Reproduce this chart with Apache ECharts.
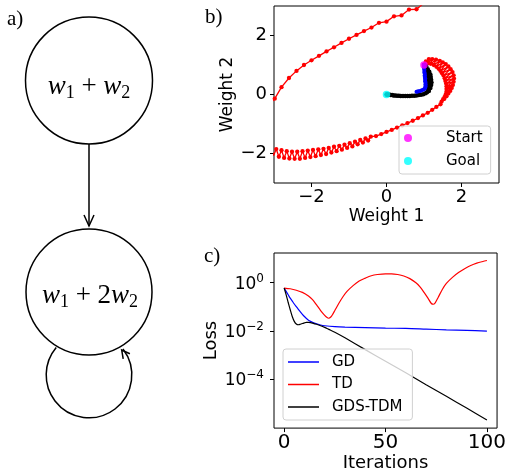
<!DOCTYPE html>
<html>
<head>
<meta charset="utf-8">
<script src="https://cdn.jsdelivr.net/npm/echarts@6/dist/echarts.min.js"></script>
<style>
html, body { margin: 0; padding: 0; background: #fff; }
#main { width: 509px; height: 473px; }
</style>
</head>
<body>
<div id="main"></div>
<script>
// b) weight trajectories
var tdPath = [
  // crescent right after the start
  [1.0,1.0],[1.05,1.12],[1.02,1.03],[1.13,1.2],[1.1,1.06],[1.22,1.2],[1.18,1.04],[1.32,1.18],
  [1.26,1.0],[1.42,1.14],[1.33,0.94],[1.5,1.09],[1.39,0.87],[1.58,1.03],[1.44,0.8],[1.65,0.95],
  [1.48,0.72],[1.71,0.86],[1.52,0.64],[1.76,0.76],[1.55,0.55],[1.79,0.65],[1.57,0.46],[1.8,0.54],
  [1.59,0.37],[1.79,0.43],[1.6,0.28],[1.77,0.32],[1.6,0.19],[1.74,0.22],[1.6,0.1],[1.7,0.12],
  [1.58,0.01],[1.65,0.03],[1.55,-0.08],[1.6,-0.06],[1.51,-0.16],[1.54,-0.15],[1.47,-0.24],
  // thin lower-right arc
  [1.44,-0.33],[1.33,-0.42],[1.22,-0.52],[1.1,-0.62],[0.97,-0.71],[0.84,-0.8],[0.7,-0.89],
  [0.56,-0.97],[0.42,-1.05],[0.28,-1.12],[0.14,-1.2],[0.0,-1.27],[-0.14,-1.34],[-0.28,-1.41],
  // hatched band along the bottom
  [-0.42,-1.43],[-0.49,-1.56],[-0.56,-1.49],[-0.63,-1.63],[-0.7,-1.54],[-0.77,-1.69],[-0.84,-1.6],
  [-0.91,-1.76],[-0.98,-1.65],[-1.05,-1.81],[-1.12,-1.7],[-1.19,-1.87],[-1.26,-1.74],[-1.33,-1.92],
  [-1.4,-1.77],[-1.47,-1.97],[-1.54,-1.81],[-1.61,-2.02],[-1.68,-1.84],[-1.75,-2.05],[-1.82,-1.86],
  [-1.89,-2.09],[-1.96,-1.88],[-2.03,-2.12],[-2.1,-1.9],[-2.17,-2.15],[-2.24,-1.92],[-2.31,-2.18],
  [-2.38,-1.94],[-2.45,-2.18],[-2.52,-1.94],[-2.59,-2.17],[-2.66,-1.92],[-2.73,-2.15],[-2.8,-1.89],
  [-2.87,-2.11],[-2.94,-1.85],[-3.01,-2.07],[-3.08,-1.8],[-3.15,-2.01],[-3.25,-1.72],
  // outside the view on the left
  [-3.5,-1.1],[-3.5,-0.7],[-3.2,-0.45],
  // upper arc
  [-2.98,-0.14],[-2.8,0.25],[-2.6,0.56],[-2.4,0.8],[-2.2,1.0],[-2.0,1.16],[-1.8,1.31],[-1.6,1.46],
  [-1.4,1.6],[-1.2,1.75],[-1.0,1.89],[-0.8,2.02],[-0.6,2.15],[-0.4,2.27],[-0.2,2.43],[0.0,2.47],
  [0.2,2.65],[0.4,2.68],[0.6,2.88],[0.8,2.89],[1.0,3.1],[1.2,3.08],[1.4,3.3]
];
var gdsPath = [
  [1.0,1.0],[1.06,0.95],[1.02,0.9],[1.1,0.86],[1.05,0.81],[1.14,0.77],[1.08,0.72],[1.17,0.68],
  [1.1,0.63],[1.18,0.59],[1.12,0.54],[1.19,0.5],[1.13,0.45],[1.2,0.41],[1.13,0.36],[1.19,0.32],
  [1.13,0.27],[1.17,0.22],[1.11,0.17],[1.13,0.12],[1.08,0.08],[1.04,0.04],[0.98,0.01],[0.92,-0.01],
  [0.86,-0.02],[0.8,-0.03],[0.74,-0.04],[0.68,-0.04],[0.62,-0.05],[0.56,-0.05],[0.5,-0.05],
  [0.44,-0.05],[0.38,-0.05],[0.33,-0.04],[0.28,-0.04],[0.23,-0.03],[0.19,-0.03],[0.15,-0.02],
  [0.11,-0.02],[0.08,-0.01],[0.05,-0.01],[0.03,0.0],[0.01,0.0],[0.0,0.0]
];
var gdPath = [
  [1.0,1.0],[1.0,0.95],[1.0,0.9],[1.01,0.85],[1.01,0.8],[1.01,0.75],[1.02,0.7],[1.02,0.65],
  [1.02,0.6],[1.03,0.55],[1.03,0.5],[1.03,0.45],[1.04,0.4],[1.04,0.35],[1.04,0.3],[1.04,0.26],
  [1.03,0.22],[1.01,0.19],[0.98,0.16],[0.94,0.14],[0.9,0.12],[0.86,0.11],[0.83,0.1],[0.8,0.09]
];
var startPoint = [[1, 1]];
var goalPoint = [[0, 0]];
var weightTicks = [-2, 0, 2];

// c) loss per iteration, stored as log10(loss)
var gdLog = [
  [0,-0.22],[1,-0.36],[2,-0.5],[3,-0.64],[4,-0.76],[5,-0.88],[6,-0.99],[7,-1.1],[8,-1.21],
  [9,-1.31],[10,-1.4],[11,-1.48],[12,-1.55],[13,-1.6],[14,-1.64],[16,-1.7],[18,-1.75],[20,-1.78],
  [25,-1.82],[30,-1.84],[40,-1.86],[50,-1.88],[60,-1.89],[70,-1.92],[80,-1.95],[90,-1.97],[100,-2.0]
];
var tdLog = [
  [0,-0.22],[3,-0.25],[6,-0.31],[9,-0.4],[12,-0.55],[14,-0.7],[16,-0.92],[18,-1.15],[20,-1.35],
  [21,-1.43],[22,-1.47],[23,-1.42],[24,-1.3],[25,-1.15],[27,-0.85],[29,-0.58],[31,-0.36],
  [34,-0.12],[37,0.07],[40,0.19],[43,0.29],[46,0.34],[50,0.37],[53,0.37],[56,0.34],[59,0.28],
  [62,0.17],[65,0.0],[67,-0.17],[69,-0.4],[71,-0.65],[72.5,-0.85],[73.5,-0.89],[74.5,-0.83],
  [76,-0.6],[78,-0.28],[80,-0.03],[83,0.22],[86,0.42],[89,0.58],[92,0.71],[95,0.81],[98,0.88],[100,0.92]
];
var gdsLog = [
  [0,-0.22],[1,-0.5],[2,-0.82],[3,-1.12],[4,-1.4],[5,-1.6],[6,-1.71],[7,-1.74],[8,-1.72],
  [9,-1.69],[10,-1.66],[11,-1.64],[12,-1.64],[13,-1.65],[14,-1.67],[16,-1.72],[18,-1.78],
  [20,-1.85],[22,-1.93],[25,-2.05],[30,-2.28],[40,-2.77],[50,-3.25],[60,-3.73],[70,-4.22],
  [80,-4.7],[90,-5.19],[100,-5.68]
];
var iterTicks = [0, 50, 100];
var lossTicks = [1e-4, 1e-2, 1];

function toLoss(arr) {
  return arr.map(function (p) { return [p[0], Math.pow(10, p[1])]; });
}
function minus(v) {
  return String(v).replace('-', '\u2212');
}

var chart = echarts.init(document.getElementById('main'));
var black = '#000';
var tickLine = { color: black, width: 1 };
var legendBox = {
  backgroundColor: 'rgba(255,255,255,0.8)', borderColor: '#d0d0d0', borderWidth: 1, borderRadius: 3
};
var serif = '"Liberation Serif"';
var mathRich = {
  i: { fontFamily: serif, fontStyle: 'italic', fontSize: 27, lineHeight: 30, verticalAlign: 'middle', color: '#222' },
  o: { fontFamily: serif, fontSize: 27, lineHeight: 30, verticalAlign: 'middle', color: '#222' },
  s: { fontFamily: serif, fontSize: 18, lineHeight: 17, verticalAlign: 'bottom', color: '#222' }
};

var option = {
  animation: false,
  textStyle: { fontFamily: 'DejaVu Sans' },
  grid: [
    { left: 274, top: 6, width: 225, height: 177, show: true, borderColor: black, borderWidth: 1 },
    { left: 274, top: 253, width: 225, height: 177, show: true, borderColor: black, borderWidth: 1 }
  ],
  xAxis: [
    {
      gridIndex: 0, type: 'value', min: -3, max: 3,
      axisLine: { show: false, onZero: false }, splitLine: { show: false },
      axisTick: { length: 4, customValues: weightTicks, lineStyle: tickLine },
      axisLabel: { customValues: weightTicks, formatter: minus, fontSize: 18, color: black, margin: 5 },
      name: 'Weight 1', nameLocation: 'middle', nameGap: 25,
      nameTextStyle: { fontSize: 17, color: black }
    },
    {
      gridIndex: 1, type: 'value', min: -5, max: 105,
      axisLine: { show: false, onZero: false }, splitLine: { show: false },
      axisTick: { length: 4, customValues: iterTicks, lineStyle: tickLine },
      axisLabel: { customValues: iterTicks, fontSize: 20, color: black, margin: 5 },
      name: 'Iterations', nameLocation: 'middle', nameGap: 25,
      nameTextStyle: { fontSize: 18, color: black }
    }
  ],
  yAxis: [
    {
      gridIndex: 0, type: 'value', min: -3, max: 3,
      axisLine: { show: false, onZero: false }, splitLine: { show: false },
      axisTick: { length: 4, customValues: weightTicks, lineStyle: tickLine },
      axisLabel: { customValues: weightTicks, formatter: minus, fontSize: 18, color: black, margin: 7 },
      name: 'Weight 2', nameLocation: 'middle', nameGap: 36,
      nameTextStyle: { fontSize: 17, color: black }
    },
    {
      gridIndex: 1, type: 'log', logBase: 10, min: 9.6e-7, max: 17,
      axisLine: { show: false, onZero: false }, splitLine: { show: false },
      axisTick: { length: 4, customValues: lossTicks, lineStyle: tickLine },
      axisLabel: {
        customValues: lossTicks, color: black, margin: 10,
        formatter: function (v) {
          return '{b|10}{s|' + minus(Math.round(Math.log10(v))) + '}';
        },
        rich: {
          b: { fontSize: 17, lineHeight: 20, verticalAlign: 'bottom', color: black },
          s: { fontSize: 12, lineHeight: 12, verticalAlign: 'top', color: black }
        }
      },
      name: 'Loss', nameLocation: 'middle', nameGap: 28,
      nameTextStyle: { fontSize: 18, color: black }
    }
  ],
  legend: [
    Object.assign({
      data: ['Start', 'Goal'], orient: 'vertical', left: 399, top: 126,
      padding: [3, 8, 4, 5], itemWidth: 30, itemHeight: 8, itemGap: 5,
      textStyle: { fontSize: 15, color: black, lineHeight: 18, padding: [0, 0, 0, 18] }
    }, legendBox),
    Object.assign({
      data: ['GD', 'TD', 'GDS-TDM'], orient: 'vertical', left: 283, top: 349,
      padding: [4, 10, 4, 5], icon: 'rect', itemWidth: 31, itemHeight: 1.5, itemGap: 4.5,
      textStyle: { fontSize: 15, color: black, lineHeight: 18, padding: [0, 0, 0, 8] }
    }, legendBox)
  ],
  series: [
    {
      name: 'TD path', type: 'line', xAxisIndex: 0, yAxisIndex: 0, data: tdPath,
      symbol: 'circle', symbolSize: 4.3, itemStyle: { color: '#ff0000' },
      lineStyle: { color: '#ff0000', width: 1.3 }, silent: true
    },
    {
      name: 'GDS-TDM path', type: 'line', xAxisIndex: 0, yAxisIndex: 0, data: gdsPath,
      symbol: 'circle', symbolSize: 4.5, itemStyle: { color: black },
      lineStyle: { color: black, width: 1.5 }, silent: true
    },
    {
      name: 'GD path', type: 'line', xAxisIndex: 0, yAxisIndex: 0, data: gdPath,
      symbol: 'circle', symbolSize: 4, itemStyle: { color: '#0000ff' },
      lineStyle: { color: '#0000ff', width: 1.5 }, silent: true
    },
    {
      name: 'Start', type: 'scatter', xAxisIndex: 0, yAxisIndex: 0, data: startPoint,
      symbol: 'circle', symbolSize: 7.5, itemStyle: { color: '#ff00ff' }, z: 5
    },
    {
      name: 'Goal', type: 'scatter', xAxisIndex: 0, yAxisIndex: 0, data: goalPoint,
      symbol: 'circle', symbolSize: 7.5, itemStyle: { color: '#00ffff' }, z: 5
    },
    {
      name: 'GD', type: 'line', xAxisIndex: 1, yAxisIndex: 1, data: toLoss(gdLog),
      symbol: 'none', smooth: 0.3, color: '#0000ff', lineStyle: { width: 1.2 }
    },
    {
      name: 'TD', type: 'line', xAxisIndex: 1, yAxisIndex: 1, data: toLoss(tdLog),
      symbol: 'none', smooth: 0.3, color: '#ff0000', lineStyle: { width: 1.2 }
    },
    {
      name: 'GDS-TDM', type: 'line', xAxisIndex: 1, yAxisIndex: 1, data: toLoss(gdsLog),
      symbol: 'none', smooth: 0.3, color: black, lineStyle: { width: 1.2 }
    }
  ],
  // a) the two-state chain diagram and panel letters
  graphic: [
    { type: 'text', left: 7, top: 9, style: { text: 'a)', font: '21px ' + serif, fill: black } },
    { type: 'text', left: 205, top: 7, style: { text: 'b)', font: '21px ' + serif, fill: black } },
    { type: 'text', left: 204, top: 246, style: { text: 'c)', font: '21px ' + serif, fill: black } },
    { type: 'circle', shape: { cx: 89, cy: 80.5, r: 63.5 }, style: { fill: 'none', stroke: black, lineWidth: 1.5 } },
    { type: 'circle', shape: { cx: 89, cy: 292, r: 63 }, style: { fill: 'none', stroke: black, lineWidth: 1.5 } },
    { type: 'line', shape: { x1: 89, y1: 144, x2: 89, y2: 226 }, style: { stroke: black, lineWidth: 1.5 } },
    { type: 'polyline', shape: { points: [[84, 215], [89, 226], [94, 215]] }, style: { fill: 'none', stroke: black, lineWidth: 1.5 } },
    { type: 'arc', shape: { cx: 89, cy: 375, r: 42.8, startAngle: -0.653, endAngle: 3.84, clockwise: true }, style: { fill: 'none', stroke: black, lineWidth: 1.5 } },
    { type: 'polyline', shape: { points: [[123.2, 358.9], [121.7, 350], [129.9, 353.8]] }, style: { fill: 'none', stroke: black, lineWidth: 1.5 } },
    {
      type: 'text', x: 89, y: 87,
      style: { text: '{i|w}{s|1}{o| + }{i|w}{s|2}', align: 'center', verticalAlign: 'middle', rich: mathRich }
    },
    {
      type: 'text', x: 90, y: 296,
      style: { text: '{i|w}{s|1}{o| + 2}{i|w}{s|2}', align: 'center', verticalAlign: 'middle', rich: mathRich }
    }
  ]
};
chart.setOption(option);
</script>
</body>
</html>
